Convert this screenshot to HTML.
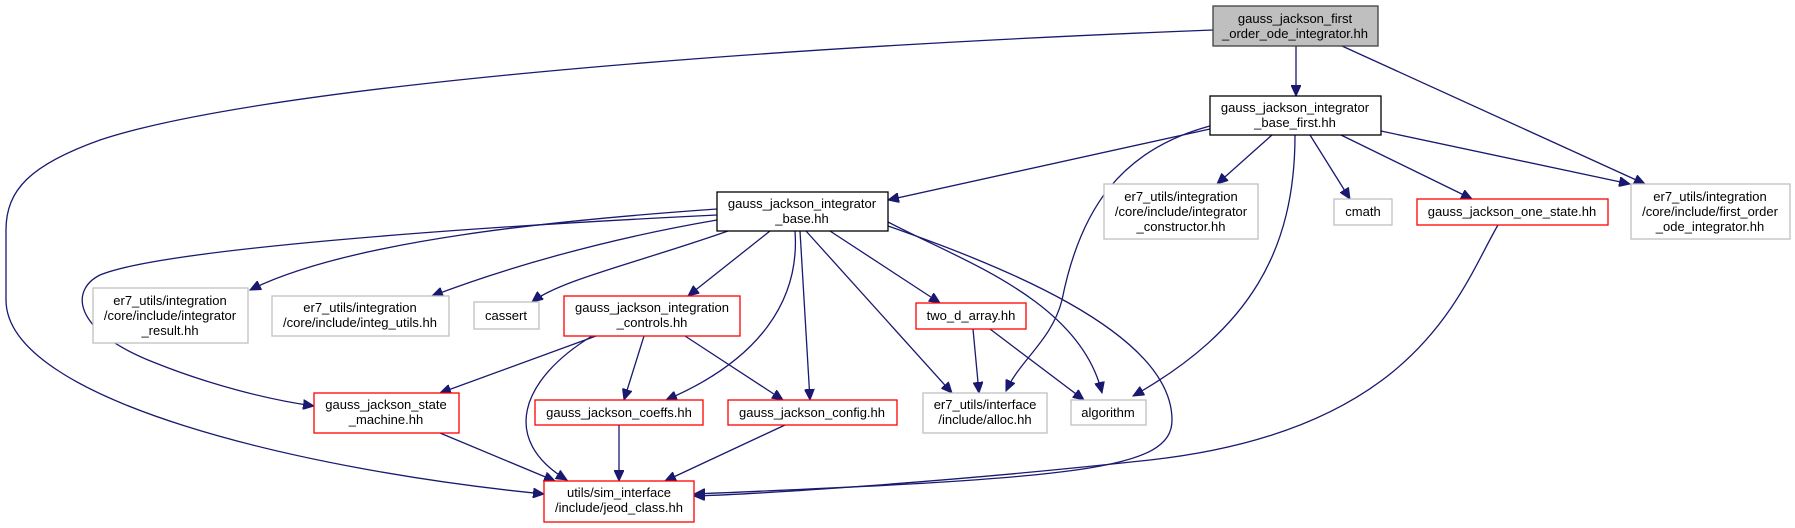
<!DOCTYPE html>
<html><head><meta charset="utf-8"><style>
html,body{margin:0;padding:0;background:#fff;}
svg{display:block}
text{font-family:"Liberation Sans",sans-serif;font-size:13px;fill:#000;text-anchor:middle}
.e{fill:none;stroke:#191970;stroke-width:1.3}
</style></head><body>
<svg width="1795" height="528" viewBox="0 0 1795 528" xmlns="http://www.w3.org/2000/svg">
<defs>
<marker id="a" markerUnits="userSpaceOnUse" markerWidth="12" markerHeight="10" refX="11" refY="5" orient="auto">
<path d="M0,0 L11,5 L0,10 z" fill="#191970" stroke="#191970"/>
</marker>
</defs>
<g marker-end="url(#a)">
<path class="e" d="M1296,46 L1296,96"/>
<path class="e" d="M1342,46 L1645,184"/>
<path class="e" d="M1213,30 C700,50 250,90 100,140 C30,165 6,190 6,230 L6,300 C6,400 300,470 544,494"/>
<path class="e" d="M1210,129 L888,200"/>
<path class="e" d="M1272,135 L1217,184"/>
<path class="e" d="M1210,126 C1120,150 1080,210 1062,300 C1052,340 1020,360 1006,391"/>
<path class="e" d="M1295,135 C1295,250 1250,330 1133,396"/>
<path class="e" d="M1310,135 L1350,199"/>
<path class="e" d="M1341,135 L1472,199"/>
<path class="e" d="M1381,131 L1630,184"/>
<path class="e" d="M1498,225 C1460,290 1420,430 1150,460 C950,482 760,494 694,496"/>
<path class="e" d="M717,209 C560,220 350,240 250,290"/>
<path class="e" d="M717,215 C450,228 160,250 100,275 C70,290 72,330 153,362 C210,385 270,400 314,406"/>
<path class="e" d="M717,220 C600,240 500,270 432,296"/>
<path class="e" d="M728,231 C640,262 560,280 532,302"/>
<path class="e" d="M770,231 L688,296"/>
<path class="e" d="M795,231 C800,300 760,360 666,400"/>
<path class="e" d="M800,231 L810,400"/>
<path class="e" d="M806,231 L952,393"/>
<path class="e" d="M830,231 L940,303"/>
<path class="e" d="M888,222 C960,260 1080,300 1102,393"/>
<path class="e" d="M888,226 C990,262 1172,330 1172,420 C1172,470 1080,478 694,494"/>
<path class="e" d="M596,336 L440,393"/>
<path class="e" d="M644,336 L624,400"/>
<path class="e" d="M685,336 L783,400"/>
<path class="e" d="M592,336 C520,380 500,440 567,480"/>
<path class="e" d="M973,329 L979,393"/>
<path class="e" d="M990,329 L1084,400"/>
<path class="e" d="M440,433 L555,481"/>
<path class="e" d="M619,425 L619,481"/>
<path class="e" d="M785,425 L665,481"/>
</g>
<g stroke-width="1.3">
<rect x="1213" y="6" width="165" height="40" fill="#bfbfbf" stroke="#404040"/>
<rect x="1210" y="96" width="171" height="39" fill="#fff" stroke="#000"/>
<rect x="1104" y="184" width="154" height="55" fill="#fff" stroke="#bfbfbf"/>
<rect x="1334" y="199" width="58" height="26" fill="#fff" stroke="#bfbfbf"/>
<rect x="1417" y="199" width="191" height="26" fill="#fff" stroke="#ff0000"/>
<rect x="1631" y="184" width="159" height="55" fill="#fff" stroke="#bfbfbf"/>
<rect x="717" y="192" width="171" height="39" fill="#fff" stroke="#000"/>
<rect x="93" y="288" width="155" height="55" fill="#fff" stroke="#bfbfbf"/>
<rect x="272" y="296" width="177" height="40" fill="#fff" stroke="#bfbfbf"/>
<rect x="474" y="302" width="65" height="27" fill="#fff" stroke="#bfbfbf"/>
<rect x="564" y="296" width="176" height="40" fill="#fff" stroke="#ff0000"/>
<rect x="916" y="303" width="110" height="26" fill="#fff" stroke="#ff0000"/>
<rect x="314" y="393" width="145" height="40" fill="#fff" stroke="#ff0000"/>
<rect x="535" y="400" width="168" height="25" fill="#fff" stroke="#ff0000"/>
<rect x="728" y="400" width="169" height="25" fill="#fff" stroke="#ff0000"/>
<rect x="923" y="393" width="124" height="40" fill="#fff" stroke="#bfbfbf"/>
<rect x="1071" y="400" width="75" height="25" fill="#fff" stroke="#bfbfbf"/>
<rect x="544" y="481" width="150" height="41" fill="#fff" stroke="#ff0000"/>
</g>
<text x="1295" y="23">gauss_jackson_first</text>
<text x="1295" y="38">_order_ode_integrator.hh</text>
<text x="1295" y="112">gauss_jackson_integrator</text>
<text x="1295" y="127">_base_first.hh</text>
<text x="1181" y="201">er7_utils/integration</text>
<text x="1181" y="216">/core/include/integrator</text>
<text x="1181" y="231">_constructor.hh</text>
<text x="1363" y="216">cmath</text>
<text x="1512" y="216">gauss_jackson_one_state.hh</text>
<text x="1710" y="201">er7_utils/integration</text>
<text x="1710" y="216">/core/include/first_order</text>
<text x="1710" y="231">_ode_integrator.hh</text>
<text x="802" y="208">gauss_jackson_integrator</text>
<text x="802" y="223">_base.hh</text>
<text x="170" y="305">er7_utils/integration</text>
<text x="170" y="320">/core/include/integrator</text>
<text x="170" y="335">_result.hh</text>
<text x="360" y="312">er7_utils/integration</text>
<text x="360" y="327">/core/include/integ_utils.hh</text>
<text x="506" y="320">cassert</text>
<text x="652" y="312">gauss_jackson_integration</text>
<text x="652" y="327">_controls.hh</text>
<text x="971" y="320">two_d_array.hh</text>
<text x="386" y="409">gauss_jackson_state</text>
<text x="386" y="424">_machine.hh</text>
<text x="619" y="417">gauss_jackson_coeffs.hh</text>
<text x="812" y="417">gauss_jackson_config.hh</text>
<text x="985" y="409">er7_utils/interface</text>
<text x="985" y="424">/include/alloc.hh</text>
<text x="1108" y="417">algorithm</text>
<text x="619" y="497">utils/sim_interface</text>
<text x="619" y="512">/include/jeod_class.hh</text>
</svg>
</body></html>
